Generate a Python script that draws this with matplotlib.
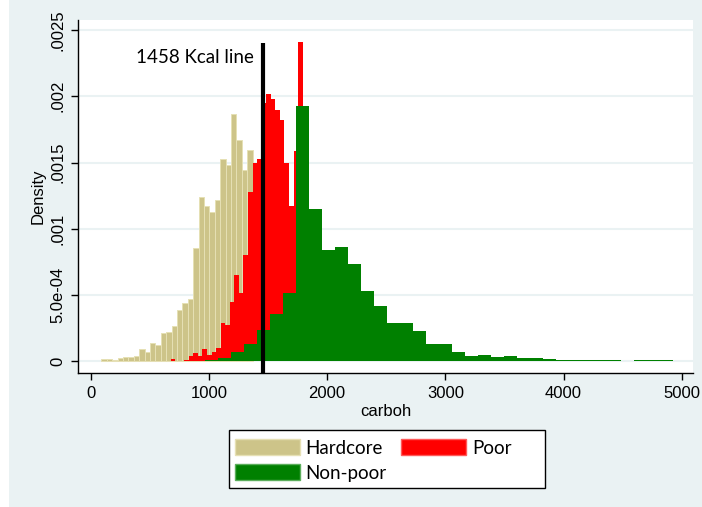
import numpy as np
import matplotlib.pyplot as plt
from matplotlib.patches import Rectangle, Patch

# histogram data (density per bin)
hardcore_start, hardcore_width = 90, 45.7
hardcore = [0.000015, 0.000018, 0.000008, 0.000025, 0.00003, 0.00003, 0.000043,
            0.000093, 0.000071, 0.000141, 0.000121, 0.000217, 0.000222, 0.00027,
            0.000386, 0.000437, 0.00047, 0.000854, 0.00124, 0.00117, 0.001124,
            0.00122, 0.001523, 0.001485, 0.001869, 0.001667, 0.001442, 0.001598]

poor_start, poor_width = 676, 38.5
poor = [0.00002, 0, 0, 0.000013, 0.000038, 0.000064, 0.000038, 0.000096, 0.00005,
        0.000068, 0.0001, 0.000287, 0.000275, 0.000445, 0.00065, 0.000515, 0.0008,
        0.00128, 0.0015, 0.00153, 0.00195, 0.00202, 0.00198, 0.0019, 0.00182,
        0.0015, 0.00117, 0.00159, 0.00241]

nonpoor_start, nonpoor_width = 853, 110.1
nonpoor = [0.000005, 0.00001, 0.000028, 0.00007, 0.000134, 0.000235, 0.00036,
           0.000513, 0.00193, 0.00115, 0.000843, 0.000861, 0.000733, 0.000534,
           0.000415, 0.00029, 0.000292, 0.000232, 0.000128, 0.000128, 0.00007,
           0.000038, 0.000045, 0.00003, 0.00004, 0.000025, 0.000025, 0.000018,
           0.000008, 0.000008, 0.000008, 0.000008, 0.000008, 0, 0.000008,
           0.000008, 0.000008]

kcal_line = 1458
kcal_top = 0.0024

xticks = [0, 1000, 2000, 3000, 4000, 5000]
yticks = [0, 0.0005, 0.001, 0.0015, 0.002, 0.0025]
yticklabels = ['0', '5.0e-04', '.001', '.0015', '.002', '.0025']

BG = '#EAF2F3'
KHAKI, KHAKI_EDGE = '#CDC489', '#E6E0B4'
RED, GREEN = '#FF0000', '#008000'
tick_font = 'Liberation Sans'
text_font = 'Lato'

fig = plt.figure(figsize=(7.02, 5.07), dpi=100, facecolor=BG)
fig.add_artist(Rectangle((0, 0), 9 / 702, 1, transform=fig.transFigure,
                         facecolor='white', edgecolor='none'))
ax = fig.add_axes([0.1115, 0.2637, 0.8761, 0.6969])
ax.set_facecolor('white')

# hardcore: separate bars with light outlines
hc = np.array(hardcore)
hc_left = hardcore_start + hardcore_width * np.arange(len(hc))
ax.bar(hc_left, hc, width=hardcore_width, align='edge', color=KHAKI,
       edgecolor=KHAKI_EDGE, linewidth=0.7, zorder=2)

# poor and non-poor: filled step outlines
pr = np.array(poor)
ax.stairs(pr, poor_start + poor_width * np.arange(len(pr) + 1), fill=True,
          color=RED, zorder=3)
npr = np.array(nonpoor)
ax.stairs(npr, nonpoor_start + nonpoor_width * np.arange(len(npr) + 1),
          fill=True, color=GREEN, zorder=3.5)

ax.plot([kcal_line, kcal_line], [-0.001, kcal_top], color='black', lw=3,
        solid_capstyle='butt', zorder=4)
ax.text(1380, 0.00229, '1458 Kcal line', ha='right', va='center',
        fontsize=13.5, family=text_font, zorder=5)

ax.set_xlim(-105, 5097)
ax.set_ylim(-0.0000906, 0.002576)
ax.set_xticks(xticks)
ax.set_xticklabels([str(t) for t in xticks], family=tick_font, fontsize=12)
ax.set_yticks(yticks)
ax.set_yticklabels(yticklabels, family=tick_font, fontsize=12, rotation=90,
                   va='center')
ax.tick_params(direction='out', length=5, width=1, color='black', pad=4)
ax.grid(axis='y', color=BG, lw=1.5, zorder=0)
ax.set_axisbelow(True)
for s in ['top', 'right']:
    ax.spines[s].set_visible(False)
for s in ['left', 'bottom']:
    ax.spines[s].set_color('black')
    ax.spines[s].set_linewidth(1)
ax.set_xlabel('carboh', family=tick_font, fontsize=12, labelpad=2)
ax.set_ylabel('Density', family=tick_font, fontsize=12, labelpad=4)

# legend box (Stata style, wider than its content)
fig.add_artist(Rectangle((229 / 702, 1 - 488 / 507), 316 / 702, 58 / 507,
                         transform=fig.transFigure, facecolor='white',
                         edgecolor='black', linewidth=1, zorder=5))
handles = [Patch(facecolor=KHAKI, edgecolor=KHAKI_EDGE, label='Hardcore'),
           Patch(facecolor=GREEN, edgecolor='#5CAE5C', label='Non-poor'),
           Patch(facecolor=RED, edgecolor='#FF5A5A', label='Poor')]
leg = fig.legend(handles=handles, ncol=2, loc='upper left',
                 bbox_to_anchor=(235 / 702, 1 - 439 / 507), frameon=False,
                 handlelength=3.45, handleheight=0.95, handletextpad=0.3,
                 columnspacing=0.8, labelspacing=0.4, borderpad=0,
                 borderaxespad=0, prop={'family': text_font, 'size': 13.5})
leg.set_zorder(6)

fig.savefig('out.png', dpi=100, facecolor=BG)
